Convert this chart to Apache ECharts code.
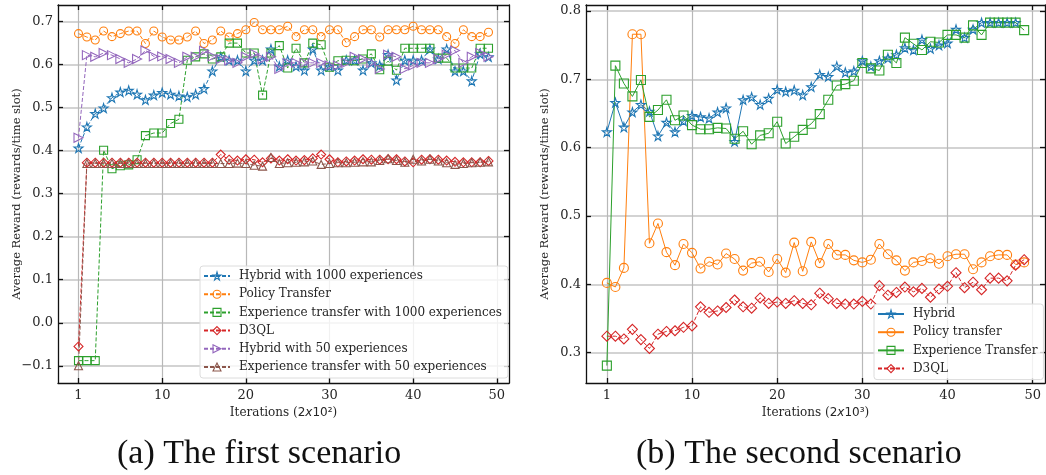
<!DOCTYPE html>
<html>
    <head>
        <meta charset="utf-8">
        <title>Average reward</title>
        <style>
            html, body { margin: 0; padding: 0; background: #fff; }
            #chart1 { width: 1046px; height: 475px; }
        </style>
    </head>
    <body>
        <div id="chart1"></div>
    </body>
    <script src="https://cdn.jsdelivr.net/npm/echarts@6.0.0/dist/echarts.min.js"></script>
    <script>
        // x positions: index 0 is labelled "1"
        var xTicks = [0, 10, 20, 30, 40, 50];
        var yTicksA = [-0.1, 0, 0.1, 0.2, 0.3, 0.4, 0.5, 0.6, 0.7];
        var yTicksB = [0.3, 0.4, 0.5, 0.6, 0.7, 0.8];

        // (a) first scenario
        var hybrid1000 = [0.406,0.455,0.486,0.499,0.523,0.536,0.540,0.531,0.518,0.529, 0.535,0.531,0.527,0.525,0.531,0.544,0.585,0.618,0.610,0.610, 0.585,0.610,0.610,0.636,0.596,0.610,0.596,0.587,0.636,0.587, 0.596,0.587,0.610,0.610,0.587,0.604,0.598,0.623,0.564,0.610, 0.610,0.610,0.636,0.613,0.636,0.585,0.585,0.562,0.625,0.618];
        var policyA = [0.672,0.664,0.657,0.678,0.665,0.672,0.678,0.678,0.649,0.678, 0.664,0.657,0.657,0.664,0.678,0.649,0.657,0.678,0.664,0.672, 0.681,0.698,0.681,0.681,0.681,0.689,0.665,0.681,0.681,0.665, 0.681,0.681,0.651,0.665,0.681,0.681,0.664,0.681,0.681,0.681, 0.689,0.681,0.681,0.681,0.665,0.649,0.681,0.665,0.665,0.675];
        var exp1000 = [-0.088,-0.088,-0.088,0.401,0.358,0.365,0.367,0.379,0.435,0.441, 0.441,0.463,0.473,0.610,0.618,0.625,0.613,0.618,0.650,0.650, 0.627,0.627,0.529,0.627,0.644,0.592,0.638,0.604,0.650,0.646, 0.594,0.609,0.610,0.609,0.613,0.625,0.588,0.608,0.587,0.638, 0.638,0.638,0.638,0.615,0.615,0.592,0.592,0.592,0.638,0.638];
        var d3qlA = [-0.055,0.372,0.372,0.372,0.372,0.372,0.372,0.372,0.372,0.372, 0.372,0.372,0.372,0.372,0.372,0.372,0.372,0.391,0.379,0.377, 0.380,0.379,0.373,0.382,0.377,0.380,0.377,0.378,0.382,0.391, 0.380,0.373,0.375,0.377,0.380,0.379,0.379,0.380,0.380,0.375, 0.373,0.379,0.380,0.379,0.377,0.374,0.373,0.373,0.373,0.376];
        var hybrid50 = [0.430,0.622,0.618,0.627,0.622,0.613,0.604,0.613,0.633,0.619, 0.619,0.613,0.604,0.618,0.618,0.632,0.619,0.613,0.610,0.604, 0.618,0.625,0.613,0.618,0.590,0.604,0.604,0.604,0.604,0.604, 0.598,0.598,0.604,0.618,0.613,0.604,0.590,0.623,0.618,0.590, 0.598,0.604,0.604,0.613,0.623,0.633,0.604,0.618,0.627,0.618];
        var exp50 = [-0.100,0.370,0.370,0.370,0.370,0.370,0.370,0.370,0.370,0.370, 0.370,0.370,0.370,0.370,0.370,0.370,0.370,0.370,0.370,0.371, 0.370,0.366,0.364,0.384,0.370,0.372,0.373,0.374,0.376,0.368, 0.370,0.372,0.372,0.373,0.374,0.374,0.377,0.381,0.377,0.373, 0.380,0.376,0.380,0.376,0.372,0.368,0.370,0.372,0.373,0.374];

        // (b) second scenario
        var hybridB = [0.623,0.666,0.630,0.652,0.663,0.653,0.617,0.637,0.623,0.639, 0.647,0.645,0.643,0.652,0.658,0.609,0.670,0.674,0.663,0.672, 0.685,0.682,0.684,0.677,0.689,0.707,0.704,0.719,0.710,0.712, 0.727,0.719,0.727,0.731,0.736,0.746,0.743,0.758,0.745,0.750, 0.753,0.773,0.761,0.773,0.783,0.783,0.783,0.783,0.783];
        var policyB = [0.402,0.396,0.424,0.766,0.766,0.460,0.489,0.447,0.428,0.459, 0.446,0.423,0.433,0.429,0.445,0.437,0.420,0.431,0.433,0.418, 0.437,0.417,0.461,0.419,0.462,0.431,0.459,0.443,0.443,0.435, 0.432,0.436,0.459,0.444,0.435,0.420,0.432,0.434,0.438,0.430, 0.441,0.444,0.444,0.422,0.432,0.441,0.443,0.443,0.429,0.432];
        var expB = [0.281,0.720,0.694,0.675,0.699,0.645,0.655,0.670,0.640,0.647, 0.633,0.627,0.627,0.629,0.628,0.613,0.624,0.605,0.618,0.621, 0.638,0.606,0.616,0.626,0.635,0.649,0.670,0.691,0.693,0.698, 0.724,0.716,0.713,0.736,0.724,0.761,0.752,0.743,0.755,0.754, 0.765,0.765,0.761,0.779,0.765,0.783,0.783,0.783,0.783,0.772];
        var d3qlB = [0.324,0.324,0.320,0.334,0.319,0.306,0.327,0.331,0.332,0.337, 0.339,0.367,0.359,0.361,0.366,0.377,0.367,0.365,0.380,0.372, 0.374,0.372,0.376,0.372,0.370,0.387,0.379,0.372,0.371,0.371, 0.375,0.371,0.398,0.384,0.388,0.396,0.389,0.394,0.381,0.393, 0.397,0.417,0.395,0.403,0.392,0.409,0.409,0.405,0.428,0.436];

        var SERIF = "'DejaVu Serif', serif";
        var TXT = '#262626';
        var STAR = 'path://M50,0 L61,35 L98,35 L68,57 L79,91 L50,70 L21,91 L32,57 L2,35 L39,35 Z';
        var TRI_RIGHT = 'path://M0,0 L10,5 L0,10 Z';
        var CLEAR = 'rgba(255,255,255,0)';

        function pairs(arr) {
            return arr.map(function (v, i) { return [i, v]; });
        }
        function minus(v) {
            return v.toFixed(1).replace('-', '\u2212');
        }

        function xAxes(gi, name) {
            return [{
                type: 'value', gridIndex: gi, position: 'bottom',
                min: -2.45, max: 51.45, splitNumber: 5,
                name: name, nameLocation: 'middle', nameGap: 21,
                nameTextStyle: { fontFamily: SERIF, fontSize: 12, color: TXT,
                    rich: { m: { fontFamily: "'DejaVu Sans', sans-serif", fontSize: 12, color: TXT },
                            i: { fontFamily: "'DejaVu Sans', sans-serif", fontStyle: 'italic', fontSize: 12, color: TXT } } },
                axisLine: { onZero: false, lineStyle: { color: '#111', width: 1.3 } },
                axisTick: { inside: true, length: 5, customValues: xTicks, lineStyle: { color: '#111', width: 1.3 } },
                axisLabel: { customValues: xTicks, margin: 6, fontFamily: SERIF, fontSize: 13, color: TXT,
                    formatter: function (v) { return v === 0 ? '1' : String(v); } },
                splitLine: { show: true, lineStyle: { color: '#b8b8b8', width: 1.2 } }
            }, {
                type: 'value', gridIndex: gi, position: 'top',
                min: -2.45, max: 51.45,
                axisLine: { onZero: false, lineStyle: { color: '#111', width: 1.3 } },
                axisTick: { inside: true, length: 5, customValues: xTicks, lineStyle: { color: '#111', width: 1.3 } },
                axisLabel: { show: false },
                splitLine: { show: false }
            }];
        }

        function yAxes(gi, mn, mx, ticks) {
            return [{
                type: 'value', gridIndex: gi, position: 'left',
                min: mn, max: mx,
                name: 'Average Reward (rewards/time slot)', nameLocation: 'middle', nameGap: 35,
                nameMoveOverlap: false,
                nameTextStyle: { fontFamily: SERIF, fontSize: 11.5, color: TXT },
                axisLine: { onZero: false, lineStyle: { color: '#111', width: 1.3 } },
                axisTick: { inside: true, length: 5, customValues: ticks, lineStyle: { color: '#111', width: 1.3 } },
                axisLabel: { customValues: ticks, margin: 5, fontFamily: SERIF, fontSize: 13, color: TXT, formatter: minus },
                splitLine: { show: true, lineStyle: { color: '#c4c4c4', width: 1.5 } }
            }, {
                type: 'value', gridIndex: gi, position: 'right',
                min: mn, max: mx,
                axisLine: { onZero: false, lineStyle: { color: '#111', width: 1.3 } },
                axisTick: { inside: true, length: 5, customValues: ticks, lineStyle: { color: '#111', width: 1.3 } },
                axisLabel: { show: false },
                splitLine: { show: false }
            }];
        }

        function line(name, data, xi, yi, color, symbol, size, dashed) {
            return {
                name: name, type: 'line', xAxisIndex: xi, yAxisIndex: yi,
                data: pairs(data),
                symbol: symbol, symbolSize: size, showAllSymbol: true,
                lineStyle: { color: color, width: 1, type: dashed ? [4, 2] : 'solid' },
                itemStyle: { color: CLEAR, borderColor: color, borderWidth: 1.1 },
                emphasis: { disabled: true },
                animation: false
            };
        }

        // legend entry: name + colour, hollow marker
        function entry(name, color) {
            return { name: name, itemStyle: { color: CLEAR, borderColor: color, borderWidth: 1.1 } };
        }

        function legendBox(left, top, items) {
            return {
                orient: 'vertical', left: left, top: top,
                padding: [4, 6, 5, 3], itemGap: 6.2, itemWidth: 26, itemHeight: 10,
                backgroundColor: 'rgba(255,255,255,0.8)', borderColor: '#dcdcdc', borderWidth: 1, borderRadius: 3,
                textStyle: { fontFamily: SERIF, fontSize: 12, lineHeight: 10, color: TXT, padding: [0, 0, 0, 4] },
                data: items
            };
        }

        var myChart = echarts.init(document.getElementById('chart1'));

        myChart.setOption({
            animation: false,
            backgroundColor: '#fff',
            grid: [
                { left: 58, top: 5, width: 451, height: 378 },
                { left: 586, top: 5, width: 459, height: 378 }
            ],
            xAxis: xAxes(0, '{a|Iterations (}{m|2}{i|x}{m|10\u00b2}{a|)}')
                .concat(xAxes(1, '{a|Iterations (}{m|2}{i|x}{m|10\u00b3}{a|)}')),
            yAxis: yAxes(0, -0.14, 0.7385, yTicksA).concat(yAxes(1, 0.2555, 0.8088, yTicksB)),
            legend: [
                legendBox(200, 266, [
                    entry('Hybrid with 1000 experiences', '#1f77b4'),
                    entry('Policy Transfer', '#ff7f0e'),
                    entry('Experience transfer with 1000 experiences', '#2ca02c'),
                    entry('D3QL', '#d62728'),
                    entry('Hybrid with 50 experiences', '#9467bd'),
                    entry('Experience transfer with 50 experiences', '#8c564b')
                ]),
                legendBox(874, 304, [
                    entry('Hybrid', '#1f77b4'),
                    entry('Policy transfer', '#ff7f0e'),
                    entry('Experience Transfer', '#2ca02c'),
                    entry('D3QL ', '#d62728')
                ])
            ],
            graphic: [
                { type: 'text', left: 117, top: 437, style: { text: '(a) The first scenario', fontFamily: "'Liberation Serif', serif", fontSize: 34, fill: '#111' } },
                { type: 'text', left: 636, top: 437, style: { text: '(b) The second scenario', fontFamily: "'Liberation Serif', serif", fontSize: 34, fill: '#111' } }
            ],
            series: [
                line('Hybrid with 1000 experiences', hybrid1000, 0, 0, '#1f77b4', STAR, 9, true),
                line('Policy Transfer', policyA, 0, 0, '#ff7f0e', 'circle', 8, true),
                line('Experience transfer with 1000 experiences', exp1000, 0, 0, '#2ca02c', 'rect', 8, true),
                line('D3QL', d3qlA, 0, 0, '#d62728', 'diamond', 9, true),
                line('Hybrid with 50 experiences', hybrid50, 0, 0, '#9467bd', TRI_RIGHT, 9, true),
                line('Experience transfer with 50 experiences', exp50, 0, 0, '#8c564b', 'triangle', 8, true),
                line('Hybrid', hybridB, 2, 2, '#1f77b4', STAR, 9, false),
                line('Policy transfer', policyB, 2, 2, '#ff7f0e', 'circle', 9, false),
                line('Experience Transfer', expB, 2, 2, '#2ca02c', 'rect', 9, false),
                line('D3QL ', d3qlB, 2, 2, '#d62728', 'diamond', 10, true)
            ]
        });
    </script>
</html>
